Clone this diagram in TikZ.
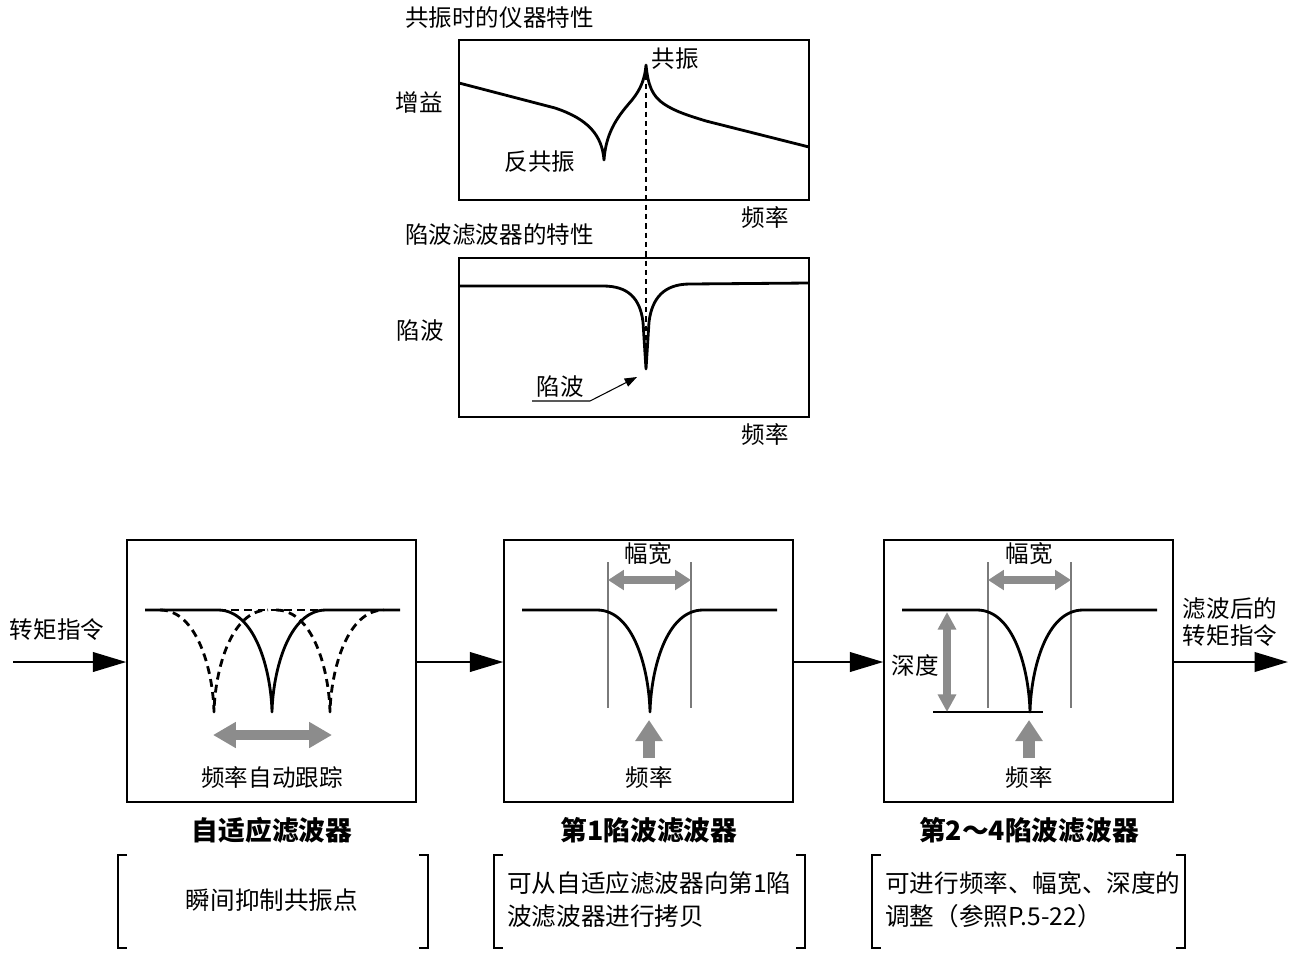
\documentclass[tikz,border=0pt]{standalone}
\usepackage{fontspec}
\setmainfont{Noto Sans CJK SC}
\usetikzlibrary{arrows.meta}
\definecolor{notchGray}{HTML}{8C8C8C}
\definecolor{guideGray}{HTML}{7A7A7A}

\begin{document}
\begin{tikzpicture}[x=0.02cm, y=-0.02cm,
    every node/.style={font=\fontsize{13.4pt}{15.4pt}\selectfont, inner sep=0pt},
    plotbox/.style={draw, line width=0.8pt, minimum width=7cm, minimum height=3.2cm},
    filterbox/.style={draw, line width=0.8pt, minimum width=5.78cm, minimum height=5.24cm},
    filtername/.style={font=\fontsize{15.2pt}{18pt}\selectfont\bfseries},
    notetext/.style={font=\fontsize{14pt}{18.8pt}\selectfont, align=left, anchor=west},
    curve/.style={line width=1.6pt, line join=round},
    ghost/.style={curve, dash pattern=on 4.5pt off 3pt},
    flow/.style={line width=1.6pt, -{Triangle[length=19pt, width=11pt]}},
    pointer/.style={line width=0.6pt, -{Triangle[length=7pt, width=5pt]}},
    guide/.style={guideGray, line width=0.6pt},
    bracket/.style={line width=0.6pt},
    trackarrow/.style={notchGray, line width=6pt, {Triangle[length=13pt, width=14pt]}-{Triangle[length=13pt, width=14pt]}},
    widtharrow/.style={notchGray, line width=4pt, {Triangle[length=9pt, width=11pt]}-{Triangle[length=9pt, width=11pt]}},
    deptharrow/.style={notchGray, line width=4.5pt, {Triangle[length=10pt, width=10pt]}-{Triangle[length=10pt, width=10pt]}},
    freqarrow/.style={notchGray, line width=7pt, -{Triangle[length=12pt, width=15pt]}}]
  \useasboundingbox (0,0) rectangle (1298,954);

  \node[plotbox] (resp) at (634,120) {};
  \node[plotbox, minimum height=3.18cm] (notchplot) at (634,337.5) {};
  \node[anchor=west] (resptitle) at (405,18) {共振时的仪器特性};
  \node (gain) at (419,102) {增益};
  \node (reslabel) at (675,59) {共振};
  \node (antireslabel) at (540,162) {反共振};
  \node (respfreq) at (765,218) {频率};
  \node[anchor=west] (notchtitle) at (405,235) {陷波滤波器的特性};
  \node (notchaxis) at (420,331) {陷波};
  \node (notchlabel) at (560,387) {陷波};
  \node (notchfreq) at (765,434) {频率};

  \coordinate (peak) at (646,65);
  \coordinate (notchtip) at (646,369);
  \coordinate (notchtail) at (532,401);
  \draw[curve] (459,83) -- (555,108) .. controls (588,119) and (602,135) .. (604,160)
    .. controls (606,130) and (620,114) .. (632,100) .. controls (641,89) and (645,78) .. (peak)
    .. controls (648,85) and (652,96) .. (664,104) .. controls (676,112) and (690,116) .. (706,121) -- (809,147);
  \draw[curve] (459,286) -- (603,286) .. controls (628,286) and (640,298) .. (643,322) -- (notchtip)
    -- (649,322) .. controls (652,298) and (664,284) .. (690,284) -- (809,283);
  \draw[line width=0.7pt, dash pattern=on 3pt off 2.3pt] (peak) -- (notchtip);
  \draw[pointer] (notchtail) -- ++(58,0) -- (637,377);

  \node[filterbox] (adapt) at (271.5,671) {};
  \node[filterbox] (first) at (648.5,671) {};
  \node[filterbox] (rest) at (1028.5,671) {};
  \coordinate (cmdin) at (13,662);
  \coordinate (cmdout) at (1288,662);
  \node (cmdlabel) at (57,630) {转矩指令};
  \node[align=center] (outlabel) at (1230,622) {滤波后的\\转矩指令};
  \draw[flow] (cmdin) -- (cmdin -| adapt.west);
  \draw[flow] (adapt.east |- cmdin) -- (first.west |- cmdin);
  \draw[flow] (first.east |- cmdin) -- (rest.west |- cmdin);
  \draw[flow] (rest.east |- cmdin) -- (cmdout);

  \draw[ghost] (160,610) .. controls (197,610) and (213,670) .. (214,712) .. controls (215,670) and (231,610) .. (268,610);
  \draw[ghost] (276,610) .. controls (313,610) and (329,670) .. (330,712) .. controls (331,670) and (347,610) .. (384,610);
  \draw[ghost] (218,610) -- (326,610);
  \draw[curve] (145,610) -- (218,610) .. controls (255,610) and (271,670) .. (272,712)
    .. controls (273,670) and (289,610) .. (326,610) -- (400,610);
  \draw[trackarrow] (213,735) -- (332,735);
  \node (track) at (272,777) {频率自动跟踪};

  \draw[guide] (608,562) -- (608,708);
  \draw[guide] (691,562) -- (691,708);
  \draw[widtharrow] (608,580) -- (691,580);
  \node (widthfirst) at (648,554) {幅宽};
  \draw[curve] (522,610) -- (597,610) .. controls (634,610) and (649,670) .. (650,712)
    .. controls (651,670) and (666,610) .. (703,610) -- (777,610);
  \draw[freqarrow] (649,758) -- (649,720);
  \node (freqfirst) at (649,777) {频率};

  \draw[guide] (988,562) -- (988,708);
  \draw[guide] (1071,562) -- (1071,708);
  \draw[widtharrow] (988,580) -- (1071,580);
  \node (widthrest) at (1029,554) {幅宽};
  \draw[line width=0.8pt] (933,712) -- (1043,712);
  \draw[deptharrow] (947,612) -- (947,712);
  \node (depthrest) at (915,665) {深度};
  \draw[curve] (902,610) -- (977,610) .. controls (1014,610) and (1029,670) .. (1030,712)
    .. controls (1031,670) and (1046,610) .. (1083,610) -- (1157,610);
  \draw[freqarrow] (1029,758) -- (1029,720);
  \node (freqrest) at (1029,777) {频率};

  \node[filtername] (adaptname) at (272,830) {自适应滤波器};
  \node[filtername] (firstname) at (649,830) {第1陷波滤波器};
  \node[filtername] (restname) at (1029,830) {第2～4陷波滤波器};

  \draw[bracket] (127,855) -- (118,855) -- (118,948) -- (127,948);
  \draw[bracket] (419,855) -- (428,855) -- (428,948) -- (419,948);
  \draw[bracket] (503,855) -- (494,855) -- (494,948) -- (503,948);
  \draw[bracket] (796,855) -- (805,855) -- (805,948) -- (796,948);
  \draw[bracket] (881,855) -- (872,855) -- (872,948) -- (881,948);
  \draw[bracket] (1176,855) -- (1185,855) -- (1185,948) -- (1176,948);
  \node[notetext, anchor=center] (adaptnote) at (272,900) {瞬间抑制共振点};
  \node[notetext] (firstnote) at (507,900) {可从自适应滤波器向第1陷\\波滤波器进行拷贝};
  \node[notetext] (restnote) at (885,900) {可进行频率、幅宽、深度的\\调整（参照P.5-22）};
\end{tikzpicture}
\end{document}
